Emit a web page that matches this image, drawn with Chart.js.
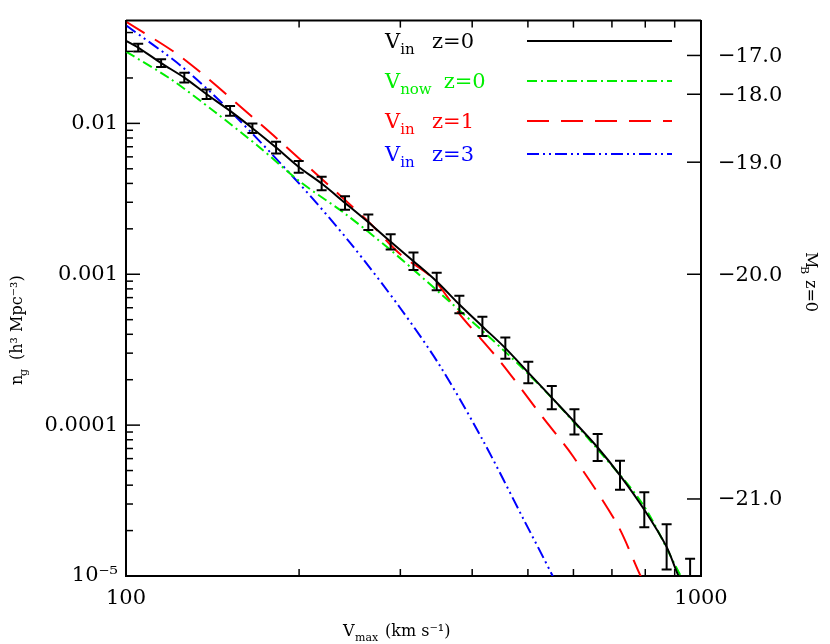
<!DOCTYPE html>
<html><head><meta charset="utf-8">
<script src="https://cdn.jsdelivr.net/npm/chart.js@4/dist/chart.umd.min.js"></script>
<style>html,body{margin:0;padding:0;background:#fff}#w{width:830px;height:644px}</style>
</head><body><div id="w"><canvas id="c"></canvas></div>
<script>
// Data (V in km/s, n in h^3 Mpc^-3)
const ptV = [105.0,115.1,126.3,138.1,151.7,165.9,182.4,199.7,218.9,240.4,263.9,288.6,316.2,347.0,380.0,416.7,456.8,500.8,550.2,602.4,661.1,723.0,796.9,871.4,957.3];
const ptN = [0.0318,0.0251,0.0201,0.0156,0.0121,0.00929,0.00691,0.00514,0.00399,0.00297,0.00221,0.00164,0.00122,0.000896,0.000630,0.000451,0.000324,0.000223,0.000152,0.000105,7.11e-5,4.65e-5,2.75e-5,1.56e-5,9.0e-6];
const ptErrDex = [0.026,0.026,0.032,0.032,0.032,0.032,0.039,0.039,0.045,0.045,0.051,0.051,0.058,0.058,0.058,0.064,0.071,0.071,0.077,0.084,0.090,0.096,0.116,0.150,0.16];
const blkV = [100,105.0,115.1,126.3,138.1,151.7,165.9,182.4,199.7,218.9,240.4,263.9,288.6,316.2,347.0,380.0,416.7,456.8,500.8,550.2,602.4,661.1,723.0,796.9,871.4,912,930];
const blkN = [0.0352,0.0318,0.0251,0.0201,0.0156,0.0121,0.00929,0.00691,0.00514,0.00399,0.00297,0.00221,0.00164,0.00122,0.000896,0.000630,0.000451,0.000324,0.000223,0.000152,0.000105,7.11e-5,4.65e-5,2.75e-5,1.56e-5,1.02e-5,9.2e-6];
const grnV = [100,119.3,142.8,171,200.7,240.4,287.7,351.6,459.8,550.7,659.2,792.9,919.6,942];
const grnN = [0.0299,0.0198,0.0119,0.0069,0.00411,0.00252,0.00146,0.00075,0.000299,0.000151,7.0e-5,2.97e-5,1.02e-5,8.8e-6];
const redV = [100,125.6,173.1,200.7,262.5,299.6,342,380.9,447.2,531.2,598.9,714.5,783.2,799];
const redN = [0.0473,0.0270,0.00957,0.00578,0.00228,0.00136,0.000935,0.000541,0.000265,0.000112,6.22e-5,2.21e-5,1.02e-5,8.8e-6];
const bluV = [100,124.2,151.7,200.7,245.2,299.6,351.6,417.8,490.2,550.7,559.6];
const bluN = [0.0447,0.0243,0.0121,0.00394,0.00162,0.0006,0.000247,7.89e-5,2.42e-5,1.02e-5,8.8e-6];
const leftTicks = [1e-5,1e-4,1e-3,1e-2];
const leftLabels = ['10⁻⁵','0.0001','0.001','0.01'];
const xTicks = [100,1000];
const mbTickN = [0.0282,0.0156,0.00553,0.001,3.24e-5];
const mbLabels = ['−17.0','−18.0','−19.0','−20.0','−21.0'];
const legendItems = [
  {main:'V',sub:'in',z:'z=0',color:'#000000',dash:[]},
  {main:'V',sub:'now',z:'z=0',color:'#00ee00',dash:[10,4,2,4]},
  {main:'V',sub:'in',z:'z=1',color:'#ff0000',dash:[22,12]},
  {main:'V',sub:'in',z:'z=3',color:'#0000ff',dash:[12,4,2,4,2,4]}
];
const F = '"DejaVu Serif", serif';
const XMIN=100, XMAX=1000, YMIN=1e-5, YMAX=0.048;
const mk = (V,N)=>V.map((v,i)=>({x:v,y:N[i]}));

const deco = {
  id:'deco',
  afterDatasetsDraw(ch){
    const c=ch.ctx, xs=ch.scales.x, ys=ch.scales.y, a=ch.chartArea;
    c.save();
    c.beginPath(); c.rect(a.left,a.top-1,a.right-a.left,a.bottom-a.top+1); c.clip();
    c.strokeStyle='#000'; c.lineWidth=2; c.setLineDash([]);
    ptV.forEach((v,i)=>{
      const x=xs.getPixelForValue(v);
      const lo=ys.getPixelForValue(ptN[i]*Math.pow(10,-ptErrDex[i]));
      const hi=ys.getPixelForValue(ptN[i]*Math.pow(10,ptErrDex[i]));
      c.beginPath(); c.moveTo(x,lo); c.lineTo(x,hi);
      c.moveTo(x-5,lo); c.lineTo(x+5,lo); c.moveTo(x-5,hi); c.lineTo(x+5,hi); c.stroke();
    });
    c.restore();
    c.save();
    c.strokeStyle='#000'; c.lineWidth=2;
    c.beginPath(); c.moveTo(a.left,a.top); c.lineTo(a.right,a.top); c.stroke();
    c.lineWidth=1.5;
    const tk=(x1,y1,x2,y2)=>{c.beginPath();c.moveTo(x1,y1);c.lineTo(x2,y2);c.stroke();};
    for(let d=100;d<=1000;d+=100){
      const x=xs.getPixelForValue(d); const L=(d===100||d===1000)?14:7;
      tk(x,a.bottom,x,a.bottom-L); tk(x,a.top,x,a.top+L);
    }
    for(let e=-5;e<=-2;e++){
      for(let m=1;m<=9;m++){
        const v=m*Math.pow(10,e); if(v>YMAX) continue;
        const y=ys.getPixelForValue(v); const L=m===1?14:7;
        tk(a.left,y,a.left+L,y);
      }
    }
    mbTickN.forEach(v=>{const y=ys.getPixelForValue(v); tk(a.right,y,a.right-14,y);});
    // legend
    c.textBaseline='alphabetic'; c.textAlign='left';
    const ly=[48,88,128,161];
    legendItems.forEach((it,i)=>{
      const y=ly[i];
      c.fillStyle=it.color;
      c.font='21px '+F; c.fillText(it.main,385,y);
      const w=c.measureText(it.main).width;
      c.font='15px '+F; c.fillText(it.sub,385+w,y+6);
      const ws=c.measureText(it.sub).width;
      c.font='21px '+F; c.fillText(it.z,Math.max(432,385+w+ws+12),y);
      c.strokeStyle=it.color; c.lineWidth=2; c.setLineDash(it.dash);
      c.beginPath(); c.moveTo(527,y-7); c.lineTo(672,y-7); c.stroke();
    });
    c.setLineDash([]);
    // axis titles
    c.fillStyle='#000';
    c.save(); c.translate(22,0); c.rotate(-Math.PI/2);
    c.textAlign='left';
    c.font='16px '+F; c.fillText('n',-385,0);
    c.font='11px '+F; c.fillText('g',-376,5);
    c.font='16px '+F; c.fillText('(h³ Mpc⁻³)',-360,0);
    c.restore();
    c.font='16px '+F; c.fillText('V',343,636);
    c.font='11px '+F; c.fillText('max',355,641);
    c.font='16px '+F; c.fillText('(km s⁻¹)',385,636);
    c.save(); c.translate(806,290); c.rotate(Math.PI/2);
    c.font='16px '+F; c.fillText('M',-38,0);
    c.font='11px '+F; c.fillText('B',-24,5);
    c.font='16px '+F; c.fillText('z=0',-10,0);
    c.restore();
    c.font='21px '+F; c.textBaseline='middle';
    mbTickN.forEach((v,i)=>{c.fillText(mbLabels[i],718,ys.getPixelForValue(v)+1);});
    c.restore();
  }
};

new Chart(document.getElementById('c'),{
  type:'line',
  data:{datasets:[
    {data:mk(blkV,blkN),borderColor:'#000',borderWidth:2,pointRadius:0,tension:0.3},
    {data:mk(grnV,grnN),borderColor:'#00ee00',borderWidth:2,borderDash:[10,4,2,4],pointRadius:0,tension:0.3},
    {data:mk(redV,redN),borderColor:'#ff0000',borderWidth:2,borderDash:[22,12],pointRadius:0,tension:0.3},
    {data:mk(bluV,bluN),borderColor:'#0000ff',borderWidth:2,borderDash:[12,4,2,4,2,4],pointRadius:0,tension:0.3}
  ]},
  options:{
    responsive:true,maintainAspectRatio:false,animation:false,
    layout:{padding:{top:2,right:0,left:0,bottom:0}},
    plugins:{legend:{display:false},tooltip:{enabled:false}},
    scales:{
      x:{type:'logarithmic',min:XMIN,max:XMAX,
        afterBuildTicks:s=>{s.ticks=xTicks.map(v=>({value:v}));},
        afterFit:s=>{s.height=68;},
        grid:{display:false,drawTicks:false},border:{display:true,color:'#000',width:2},
        ticks:{padding:10,color:'#000',font:{family:F,size:21},maxRotation:0,callback:v=>String(v)}},
      y:{type:'logarithmic',min:YMIN,max:YMAX,
        afterBuildTicks:s=>{s.ticks=leftTicks.map(v=>({value:v}));},
        afterFit:s=>{s.width=126;},
        grid:{display:false,drawTicks:false},border:{display:true,color:'#000',width:2},
        ticks:{padding:8,color:'#000',font:{family:F,size:21},callback:(v)=>{const i=leftTicks.findIndex(t=>Math.abs(t-v)/t<1e-6);return i>=0?leftLabels[i]:'';}}},
      y2:{type:'logarithmic',position:'right',min:YMIN,max:YMAX,
        afterFit:s=>{s.width=129;},
        grid:{display:false,drawTicks:false},border:{display:true,color:'#000',width:2},
        ticks:{display:false}}
    }
  },
  plugins:[deco]
});
</script></body></html>
